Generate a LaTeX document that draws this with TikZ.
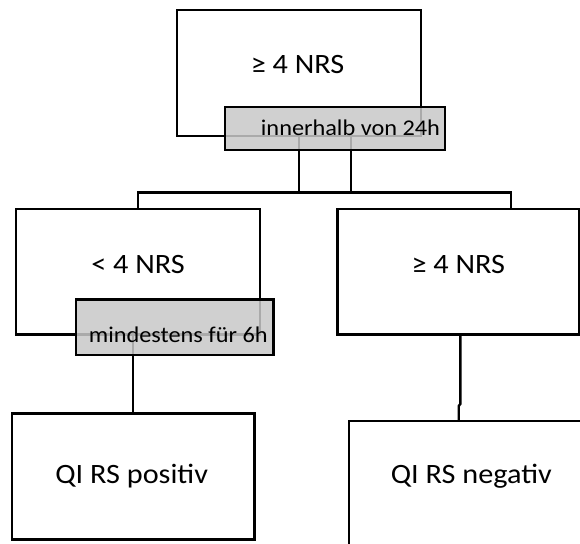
\documentclass[tikz,border=0pt]{standalone}
\usepackage{fontspec}
\setmainfont{Carlito}
\newfontfamily\mainbox[FakeStretch=1.08]{Carlito}
\definecolor{gfill}{RGB}{200,200,200}
\begin{document}
\begin{tikzpicture}[x=1pt,y=-1pt,line width=2.4pt,
  box/.style={draw=black,fill=none,rectangle,inner sep=0pt,outer sep=0pt,line width=2.4pt},
  graybox/.style={draw=black,line width=2.7pt,fill=gfill,fill opacity=0.85,draw opacity=1,rectangle,inner sep=0pt,outer sep=0pt},
  bigtxt/.style={anchor=base,inner sep=0pt,font=\mainbox\fontsize{28}{33}\selectfont},
  smalltxt/.style={anchor=base,inner sep=0pt,font=\mainbox\fontsize{22.5}{27}\selectfont},
  conn/.style={draw=black,line width=2.4pt}]
\useasboundingbox (0,0) rectangle (580,543);
\clip (0,0) rectangle (580,543);
\fill[white] (0,0) rectangle (580,543);

% top box and its connectors
\node[box,minimum width=244pt,minimum height=126pt] (top) at (299,73) {};
\coordinate (t2) at (350.7,136);
\coordinate (jl) at (299,192.3);
\coordinate (jr) at (350.7,192.3);
\coordinate (r2) at (510.7,209);

% second level boxes
\node[box,minimum width=244pt,minimum height=125.3pt] (left) at (138,271.65) {};
\node[box,minimum width=241.7pt,minimum height=125.3pt] (right) at (458.15,271.65) {};

\draw[conn] (top.south) -- (jl) -| (left.north);
\draw[conn] (t2) -- (jr) -| (r2);
\draw[conn] (jl) -- (jr);

\node[graybox,minimum width=220pt,minimum height=43pt] (g1) at (335,128.5) {};

% bottom boxes
\node[box,minimum width=242.8pt,minimum height=126pt] (pos) at (133.1,476.3) {};
\node[box,minimum width=243pt,minimum height=126pt] (neg) at (470.5,483.7) {};

\draw[conn] (left.south -| pos.north) -- (pos.north);
\coordinate (rb) at (460.3,334.3);
\coordinate (rk1) at (460.3,404);
\coordinate (rk2) at (458.7,406);
\coordinate (nt) at (458.7,420.7);
\draw[conn] (rb) -- (rk1) -- (rk2) -- (nt);

\node[graybox,minimum width=197.3pt,minimum height=55.7pt] (g2) at (174.65,327.15) {};

% texts
\node[bigtxt] (t0) at (297.5,74) {≥ 4 NRS};
\node[smalltxt] (tg1) at (350.5,135) {innerhalb von 24h};
\node[bigtxt] (tl) at (138,273.5) {< 4 NRS};
\node[bigtxt] (tr) at (458.3,273) {≥ 4 NRS};
\node[smalltxt] (tg2) at (178.3,342.7) {mindestens für 6h};
\node[bigtxt] (tp) at (131.7,483.5) {QI RS positiv};
\node[bigtxt] (tn) at (471.3,483.5) {QI RS negativ};
\end{tikzpicture}
\end{document}
